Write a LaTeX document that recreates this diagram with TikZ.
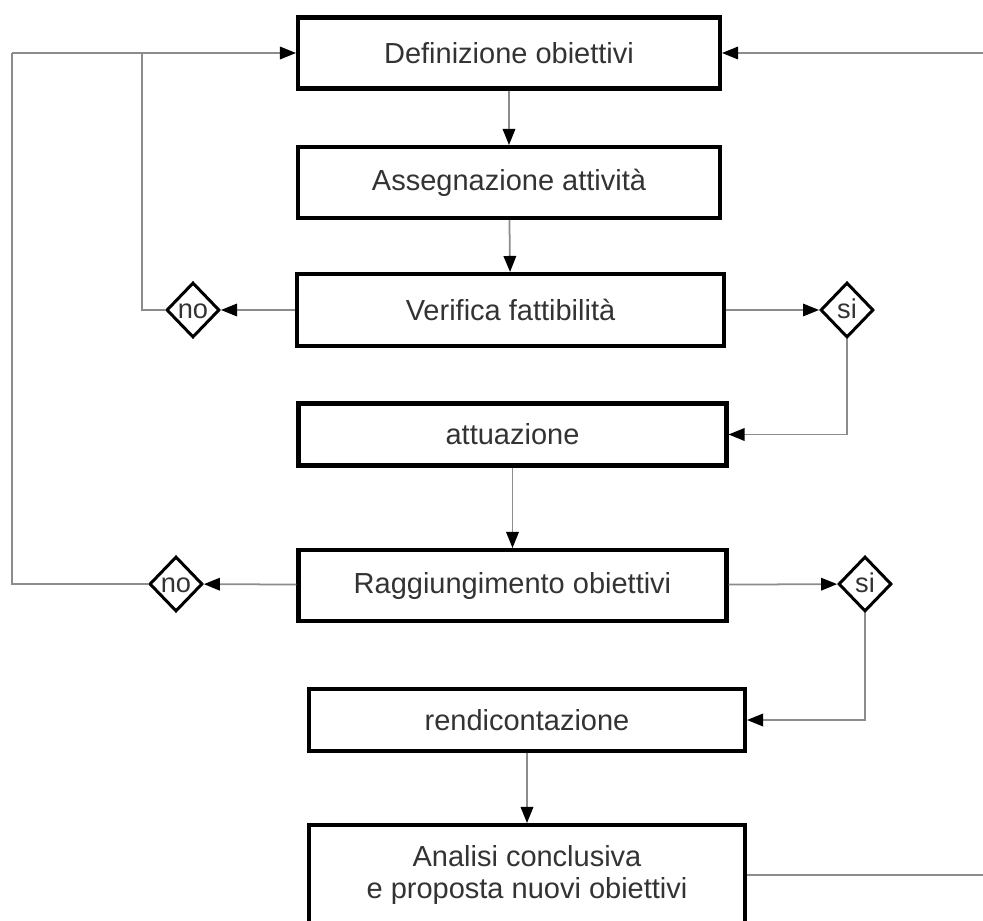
\documentclass[tikz,border=0pt]{standalone}
\usepackage{fontspec}
\setmainfont{Liberation Sans}
\usetikzlibrary{arrows.meta,shapes.geometric}
\definecolor{linegray}{HTML}{8C8C8C}
\definecolor{textgray}{HTML}{333333}

\begin{document}
\begin{tikzpicture}[x=0.2mm,y=-0.2mm,>={Triangle[length=3.2mm,width=2.5mm,color=black]}]
	\tikzstyle{box}=[draw=black,line width=2.3pt,rectangle,minimum width=8.5cm,minimum height=1.42cm,text=textgray,font=\fontsize{16.5}{18.5}\selectfont,align=center];
	\tikzstyle{choice}=[draw=black,line width=1.7pt,diamond,inner sep=0pt,minimum width=1.06cm,minimum height=1.1cm,text height=0.95em,text depth=0pt,text=textgray,font=\fontsize{15.5}{18}\selectfont];
	\tikzstyle{link}=[->,draw=linegray,line width=1pt];
	\tikzstyle{line}=[draw=linegray,line width=1pt];

	\useasboundingbox (0,0) rectangle (983,921);
	\clip (0,0) rectangle (983,921);

	\node at (509, 53)    (def) [box,minimum width=8.44cm] {Definizione obiettivi};
	\node at (509, 182.5) (ass) [box,minimum width=8.44cm] {Assegnazione attività};
	\node at (510.5, 310) (ver) [box,minimum width=8.54cm,minimum height=1.44cm] {Verifica fattibilità};
	\node at (512.5, 434.5) (att) [box,minimum width=8.56cm,minimum height=1.24cm] {attuazione};
	\node at (512.5, 585.5) (rag) [box,minimum width=8.56cm] {Raggiungimento obiettivi};
	\node at (527, 720)   (ren) [box,minimum width=8.72cm,minimum height=1.24cm] {rendicontazione};
	\node at (527, 875)   (ana) [box,minimum width=8.72cm,minimum height=2cm] {Analisi conclusiva\\e proposta nuovi obiettivi};

	\node at (193, 310) (no1) [choice] {no};
	\node at (847, 310) (si1) [choice] {si};
	\node at (176, 584) (no2) [choice] {no};
	\node at (865, 584) (si2) [choice] {si};

	\coordinate (k0) at (12, 53);
	\coordinate (k1) at (142, 53);
	\coordinate (k2) at (1000, 53);
	\coordinate (k3) at (1000, 875);

	\draw[link] (def) -- (ass);
	\draw[link] (ass) -- (ver);
	\draw[link] (ver) -- (no1);
	\draw[link] (ver) -- (si1);
	\draw[line] (no1) -| (k1);
	\draw[link] (si1) |- (att);
	\draw[link] (att) -- (rag);
	\draw[link] (rag) -- (no2);
	\draw[link] (rag) -- (si2);
	\draw[line] (no2) -| (k0);
	\draw[link] (k0) -- (def);
	\draw[link] (si2) |- (ren);
	\draw[link] (ren) -- (ana);
	\draw[link] (ana) -- (k3) -- (k2) -- (def);
\end{tikzpicture}
\end{document}
